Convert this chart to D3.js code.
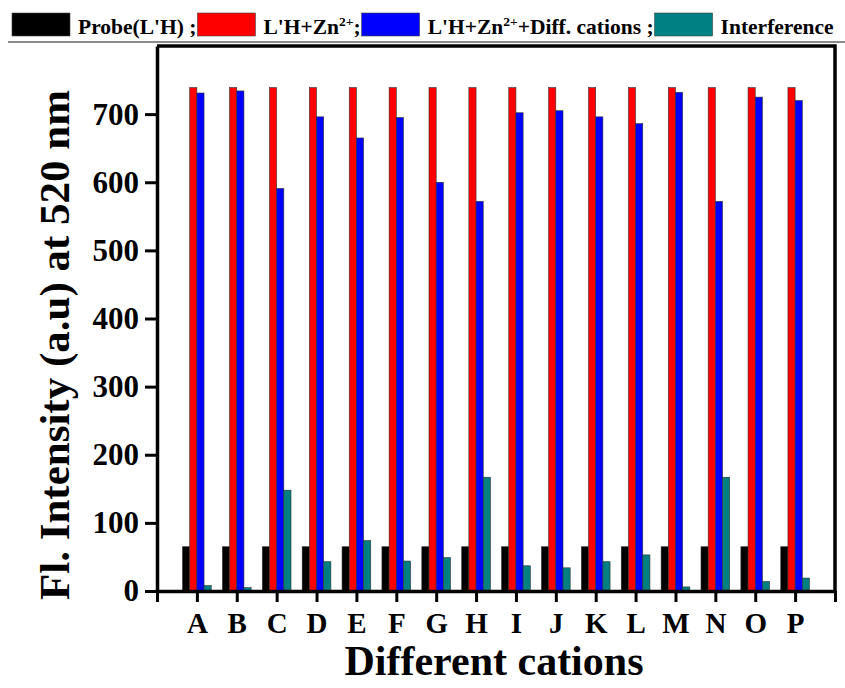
<!DOCTYPE html>
<html>
<head>
<meta charset="utf-8">
<script src="https://cdn.jsdelivr.net/npm/d3@7"></script>
<style>
  body { margin: 0; background: #fff; }
  svg text { font-family: "Liberation Serif", "Times New Roman", serif; font-weight: bold; }
</style>
</head>
<body>
<div id="chart"></div>
<script>

    // cation labels along the x axis
    const cations = ["A", "B", "C", "D", "E", "F", "G", "H", "I", "J", "K", "L", "M", "N", "O", "P"];

    // intensities
    const probe = [65, 65, 65, 65, 65, 65, 65, 65, 65, 65, 65, 65, 65, 65, 65, 65];
    const zinc = [739, 739, 739, 739, 739, 739, 739, 739, 739, 739, 739, 739, 739, 739, 739, 739];
    const mixed = [731, 734, 591, 696, 665, 695, 600, 572, 702, 705, 696, 686, 732, 572, 725, 720];
    const interference = [8, 5, 148, 43, 74, 44, 49, 167, 37, 34, 43, 53, 6, 167, 14, 19];

    const yTicks = [0, 100, 200, 300, 400, 500, 600, 700];
    const seriesColors = ["#000000", "#ff0000", "#0000ff", "#008080"];

    const width = 845, height = 688;
    const plot = { left: 157, right: 835, top: 46, bottom: 591 };

    const svg = d3.select("#chart").append("svg")
        .attr("width", width).attr("height", height);

    const x = d3.scaleLinear().domain([0, 17]).range([plot.left, plot.right]);
    const y = d3.scaleLinear().domain([0, 800]).range([plot.bottom, plot.top]);

    const series = [probe, zinc, mixed, interference];
    const barW = 0.18; // in x units

    // bars, one group per series
    series.forEach(function (vals, s) {
        svg.append("g").selectAll("rect").data(vals).enter().append("rect")
            .attr("x", function (d, i) { return x(i + 1 + (s - 2) * barW); })
            .attr("width", x(barW) - x(0))
            .attr("y", function (d) { return y(d); })
            .attr("height", function (d) { return y(0) - y(d); })
            .attr("fill", seriesColors[s])
            .attr("stroke", "#333").attr("stroke-width", 0.6);
    });

    // frame (top and right sides)
    svg.append("path")
        .attr("d", "M" + plot.left + "," + plot.top + "H" + plot.right + "V" + plot.bottom)
        .attr("fill", "none").attr("stroke", "#000").attr("stroke-width", 3.5);

    // y axis
    const yAxis = svg.append("g")
        .attr("transform", "translate(" + plot.left + ",0)")
        .call(d3.axisLeft(y).tickValues(yTicks).tickSize(12).tickPadding(6).tickSizeOuter(0));
    yAxis.select(".domain").attr("stroke-width", 3.5);
    yAxis.selectAll(".tick line").attr("stroke-width", 3);
    yAxis.selectAll("text").attr("font-size", 31).attr("fill", "#000")
        .attr("font-family", "Liberation Serif").attr("font-weight", "bold");

    // x axis, ticks at every integer incl. both ends, labels only for the cations
    const xAxis = svg.append("g")
        .attr("transform", "translate(0," + plot.bottom + ")")
        .call(d3.axisBottom(x).tickValues(d3.range(0, 18)).tickSize(11).tickPadding(10)
            .tickSizeOuter(0)
            .tickFormat(function (d) { return (d >= 1 && d <= 16) ? cations[d - 1] : ""; }));
    xAxis.select(".domain").attr("stroke-width", 3.5);
    xAxis.selectAll(".tick line").attr("stroke-width", 3);
    xAxis.selectAll("text").attr("font-size", 29).attr("fill", "#000")
        .attr("font-family", "Liberation Serif").attr("font-weight", "bold");

    // axis titles
    svg.append("text")
        .attr("x", (plot.left + plot.right) / 2 - 2).attr("y", 675)
        .attr("text-anchor", "middle").attr("font-size", 42)
        .text("Different cations");

    svg.append("text")
        .attr("transform", "translate(69,345) rotate(-90)")
        .attr("text-anchor", "middle").attr("font-size", 43)
        .text("Fl. Intensity (a.u) at 520 nm");

    // legend strip at the top
    svg.append("line")
        .attr("x1", 8).attr("x2", width).attr("y1", 42).attr("y2", 42)
        .attr("stroke", "#8a8a8a").attr("stroke-width", 2);

    const legendItems = [
        [{ t: "Probe(L'H) ;" }],
        [{ t: "L'H+Zn" }, { t: "2+", sup: true }, { t: ";" }],
        [{ t: "L'H+Zn" }, { t: "2+", sup: true }, { t: "+Diff. cations ;" }],
        [{ t: "Interference" }]
    ];

    let lx = 12;
    legendItems.forEach(function (parts, i) {
        svg.append("rect")
            .attr("x", lx).attr("y", 13).attr("width", 58).attr("height", 23)
            .attr("fill", seriesColors[i]).attr("stroke", "#444").attr("stroke-width", 0.6);
        lx += 58 + 8;
        const t = svg.append("text").attr("x", lx).attr("y", 34).attr("font-size", 21.5);
        parts.forEach(function (p) {
            const span = t.append("tspan").text(p.t);
            if (p.sup) span.attr("font-size", 13.5).attr("dy", -8);
            else if (t.selectAll("tspan").size() > 1) span.attr("dy", 8);
        });
        lx += t.node().getComputedTextLength() + 1;
    });

</script>
</body>
</html>
